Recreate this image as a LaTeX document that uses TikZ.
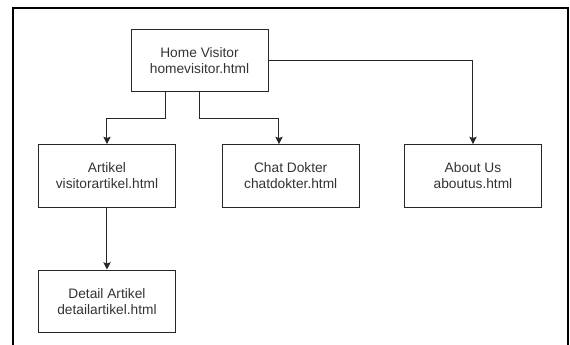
\documentclass[tikz,border=0pt]{standalone}
\usepackage{fontspec}
\setmainfont{Liberation Sans}
\usepackage{tikz}
\usetikzlibrary{shapes.geometric, arrows, arrows.meta}

\begin{document}
\begin{tikzpicture}[x=0.75pt, y=-0.75pt, node distance=86.5pt, font=\fontsize{10.3}{12}\selectfont]
		\tikzstyle{page} = [rectangle, minimum width=102.75pt, minimum height=46.9pt, inner sep=0pt, text centered, align=center, draw=black!85, line width=0.75pt, text=black!80]
		
		\tikzstyle{arrow} = [-{Stealth[length=5.5pt, width=5.5pt, inset=1pt]}, draw=black!85, line width=0.75pt]
		
		\useasboundingbox (0,0) rectangle (570,345);
		
		% Outer frame
		\draw [line width=1.5pt, black] (13.3,345) -- (13.3,8.3) -- (567.7,8.3) -- (567.7,345);
		
		% Begining of the tree
		\node (home) [page] at (199.5,60.5) {Home Visitor\\homevisitor.html};
		
		% Level 1 nodes
		\node (artikel) [page, below of = home, xshift=-69.4pt] {Artikel\\visitorartikel.html};
		\node (chat) [page, below of = home, xshift=68.4pt] {Chat Dokter\\chatdokter.html};
		\node (about) [page, below of = home, xshift=205.1pt] {About Us\\aboutus.html};
		
		% Level 2 nodes
		\node (detail) [page, below of = artikel, node distance=94.1pt] {Detail Artikel\\detailartikel.html};
		
		% Arrows
		\draw [arrow] ([xshift=-25.5pt]home.south) -- ++(0,-19.5pt) -| (artikel.north);
		\draw [arrow] (home.south) -- ++(0,-19.5pt) -| ([xshift=-8.8pt]chat.north);
		\draw [arrow] (home.east) -| (about.north);
		\draw [arrow] (artikel.south) -- (detail.north);
	\end{tikzpicture}
\end{document}
